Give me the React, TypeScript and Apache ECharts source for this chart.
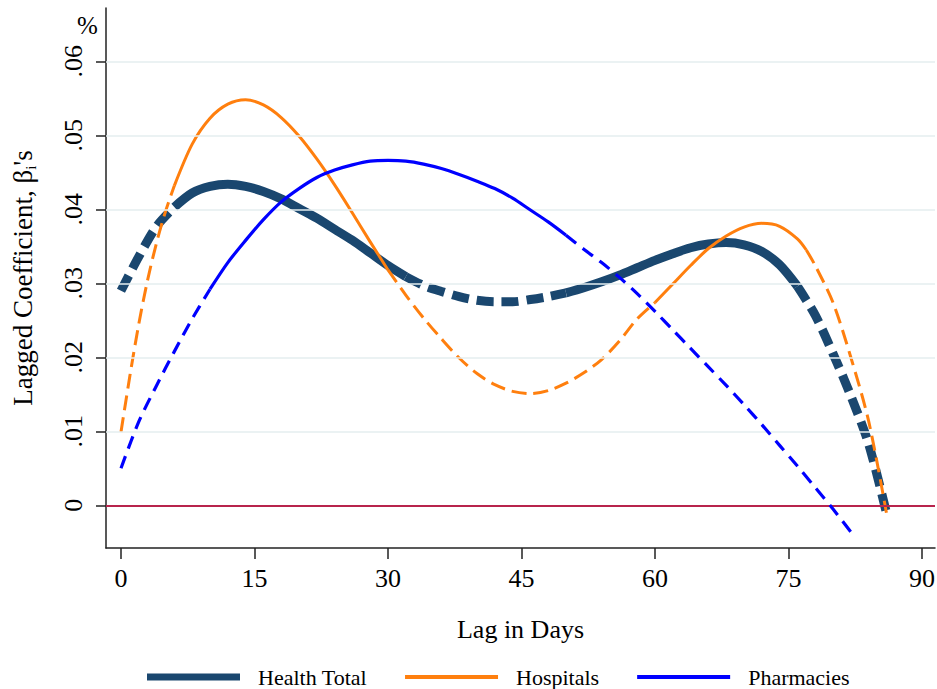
import React, { useEffect, useRef } from "react";
import * as echarts from "echarts";

const FONT = '"Liberation Serif", "Times New Roman", Times, serif';

// ---- axis ticks ----
const xTicks = [0, 15, 30, 45, 60, 75, 90];
const yTicks = [0, 0.01, 0.02, 0.03, 0.04, 0.05, 0.06];
const yTickLabels = ["0", ".01", ".02", ".03", ".04", ".05", ".06"];

// ---- series names / colours ----
const seriesNames = ["Health Total", "Hospitals", "Pharmacies"];
const seriesColors = ["#1a476f", "#ff7f0e", "#0000ff"];

// ---- Health Total ----
const healthLags = [0, 2, 4, 6, 8, 10, 12, 14, 16, 18, 20, 22, 24, 26, 28, 30, 32, 34, 36, 38, 40, 42, 44, 46, 48, 50, 52, 54, 56, 58, 60, 62, 64, 66, 68, 70, 72, 74, 76, 78, 80, 82, 84, 86];
const healthValues = [0.029, 0.0336, 0.0377, 0.0403, 0.0422, 0.0431, 0.0434, 0.0431, 0.0424, 0.0414, 0.0401, 0.0388, 0.0373, 0.0358, 0.0341, 0.0324, 0.0309, 0.0297, 0.0289, 0.0282, 0.0277, 0.0275, 0.0275, 0.0278, 0.0282, 0.0287, 0.0294, 0.0302, 0.0311, 0.0321, 0.0331, 0.034, 0.0348, 0.0353, 0.0355, 0.0352, 0.0343, 0.0325, 0.0296, 0.0257, 0.0205, 0.0148, 0.0083, -0.001];
const healthSolid = [[6, 32], [50, 76]];

// ---- Hospitals ----
const hospLags = [0, 1, 2, 3, 4, 5, 6, 8, 10, 12, 14, 16, 18, 20, 22, 24, 26, 28, 30, 32, 34, 36, 38, 40, 42, 44, 46, 48, 50, 52, 54, 56, 58, 60, 62, 64, 66, 68, 70, 72, 74, 76, 77, 78, 80, 82, 84, 86];
const hospValues = [0.0099, 0.0175, 0.0245, 0.0305, 0.0355, 0.0397, 0.0432, 0.0488, 0.0523, 0.0542, 0.0548, 0.0541, 0.0524, 0.0499, 0.0468, 0.0433, 0.0395, 0.0356, 0.0318, 0.0284, 0.0253, 0.0225, 0.0199, 0.0178, 0.0163, 0.0154, 0.0151, 0.0155, 0.0165, 0.0179, 0.0197, 0.0222, 0.0252, 0.0274, 0.0299, 0.0324, 0.0347, 0.0364, 0.0376, 0.0381, 0.0377, 0.036, 0.0345, 0.0324, 0.0274, 0.02, 0.0114, -0.001];
const hospSolid = [[6, 30], [60, 77]];

// ---- Pharmacies ----
const pharmLags = [0, 2, 4, 6, 8, 10, 12, 14, 16, 18, 20, 22, 24, 26, 28, 30, 32, 34, 36, 38, 40, 42, 44, 46, 48, 50, 52, 54, 56, 58, 60, 62, 64, 66, 68, 70, 72, 74, 76, 78, 80, 82];
const pharmValues = [0.005, 0.0113, 0.0162, 0.0208, 0.0252, 0.0292, 0.0328, 0.0358, 0.0386, 0.041, 0.0428, 0.0443, 0.0453, 0.046, 0.0465, 0.0466, 0.0465, 0.0461, 0.0455, 0.0447, 0.0438, 0.0428, 0.0415, 0.0399, 0.0383, 0.0365, 0.0346, 0.0328, 0.0308, 0.0286, 0.0262, 0.0237, 0.0212, 0.0187, 0.0162, 0.0136, 0.0109, 0.0081, 0.0053, 0.0024, -0.0005, -0.0036];
const pharmSolid = [[10, 50]];

type Seg = { solid: boolean; data: number[][] };

function segments(lags: number[], vals: number[], solid: number[][]): Seg[] {
  const start = lags[0];
  const end = lags[lags.length - 1];
  const bps = Array.from(new Set([start, end, ...solid.flat()])).sort((a, b) => a - b);
  const out: Seg[] = [];
  for (let i = 0; i < bps.length - 1; i++) {
    const a = bps[i];
    const b = bps[i + 1];
    const mid = (a + b) / 2;
    const isSolid = solid.some(([s, e]) => mid >= s && mid <= e);
    const data: number[][] = [];
    lags.forEach((l, k) => {
      if (l >= a && l <= b) data.push([l, vals[k]]);
    });
    out.push({ solid: isSolid, data });
  }
  return out;
}

export default function App() {
  const ref = useRef<HTMLDivElement>(null);

  useEffect(() => {
    if (!ref.current) return;
    const chart = echarts.init(ref.current, undefined, { renderer: "svg" });

    const defs = [
      { lags: healthLags, vals: healthValues, solid: healthSolid, width: 9, dash: [17, 8] },
      { lags: hospLags, vals: hospValues, solid: hospSolid, width: 3, dash: [15, 7] },
      { lags: pharmLags, vals: pharmValues, solid: pharmSolid, width: 3.2, dash: [13, 8] },
    ];

    const lineSeries: any[] = [];
    defs.forEach((d, i) => {
      segments(d.lags, d.vals, d.solid).forEach((seg) => {
        lineSeries.push({
          type: "line",
          name: seriesNames[i],
          data: seg.data,
          symbol: "none",
          showSymbol: false,
          smooth: 0.3,
          color: seriesColors[i],
          silent: true,
          z: 3 + i,
          lineStyle: {
            color: seriesColors[i],
            width: d.width,
            type: seg.solid ? "solid" : d.dash,
            cap: "butt",
            join: "round",
          },
        });
      });
    });

    const gridSeries = {
      type: "line",
      name: "_grid",
      data: [],
      silent: true,
      z: 1,
      markLine: {
        silent: true,
        symbol: "none",
        label: { show: false },
        animation: false,
        data: yTicks.map((v) => ({
          yAxis: v,
          lineStyle:
            v === 0
              ? { color: "#b8244c", width: 2, type: "solid" }
              : { color: "#e4eeef", width: 1.6, type: "solid" },
        })),
      },
    };

    const option: any = {
      animation: false,
      backgroundColor: "#ffffff",
      textStyle: { fontFamily: FONT },
      grid: { left: 106, right: 2, top: 8, bottom: 141, containLabel: false, outerBoundsMode: "none" },
      xAxis: {
        type: "value",
        min: -1.685,
        max: 91.46,
        name: "Lag in Days",
        nameLocation: "middle",
        nameGap: 68,
        nameTextStyle: { fontFamily: FONT, fontSize: 26, color: "#000" },
        axisLine: { show: true, onZero: false, lineStyle: { color: "#222", width: 1.5 } },
        axisTick: { show: true, customValues: xTicks, length: 11, lineStyle: { color: "#222", width: 1.5 } },
        axisLabel: {
          show: true,
          customValues: xTicks,
          margin: 17,
          fontFamily: FONT,
          fontSize: 26,
          color: "#000",
          formatter: (v: number) => String(Math.round(v)),
        },
        splitLine: { show: false },
      },
      yAxis: {
        type: "value",
        min: -0.00577,
        max: 0.0672,
        name: "{a|Lagged Coefficient, β}{b|i}{a|'s}",
        nameLocation: "middle",
        nameRotate: 90,
        nameGap: 68,
        nameTextStyle: {
          fontFamily: FONT,
          fontSize: 27,
          color: "#000",
          rich: {
            a: { fontFamily: FONT, fontSize: 27, color: "#000", lineHeight: 30 },
            b: { fontFamily: FONT, fontSize: 15, color: "#000", lineHeight: 15, verticalAlign: "bottom" },
          },
        },
        axisLine: { show: true, onZero: false, lineStyle: { color: "#222", width: 1.5 } },
        axisTick: { show: true, customValues: yTicks, length: 10, lineStyle: { color: "#222", width: 1.5 } },
        axisLabel: {
          show: true,
          customValues: yTicks,
          rotate: 90,
          margin: 20,
          fontFamily: FONT,
          fontSize: 26,
          color: "#000",
          formatter: (v: number) => {
            const idx = yTicks.findIndex((t) => Math.abs(t - v) < 1e-6);
            return idx >= 0 ? yTickLabels[idx] : "";
          },
        },
        splitLine: { show: false },
      },
      legend: {
        show: true,
        left: 142,
        top: 661,
        orient: "horizontal",
        itemWidth: 93,
        itemHeight: 7,
        itemGap: 38,
        symbolKeepAspect: true,
        selectedMode: false,
        textStyle: { fontFamily: FONT, fontSize: 22, color: "#000", padding: [0, 0, 0, 13] },
        data: [
          { name: seriesNames[0], icon: "path://M0,0H93V7H0Z", itemStyle: { color: seriesColors[0] } },
          { name: seriesNames[1], icon: "path://M0,0H93V4H0Z", itemStyle: { color: seriesColors[1] } },
          { name: seriesNames[2], icon: "path://M0,0H93V4H0Z", itemStyle: { color: seriesColors[2] } },
        ],
      },
      graphic: [
        {
          type: "text",
          left: 77,
          top: 13,
          style: { text: "%", font: `25px ${FONT}`, fill: "#000" },
        },
      ],
      series: [gridSeries, ...lineSeries],
    };

    chart.setOption(option);
    return () => chart.dispose();
  }, []);

  return (
    <div
      ref={ref}
      style={{ position: "fixed", left: 0, top: 0, width: 937, height: 689, background: "#fff" }}
    />
  );
}
